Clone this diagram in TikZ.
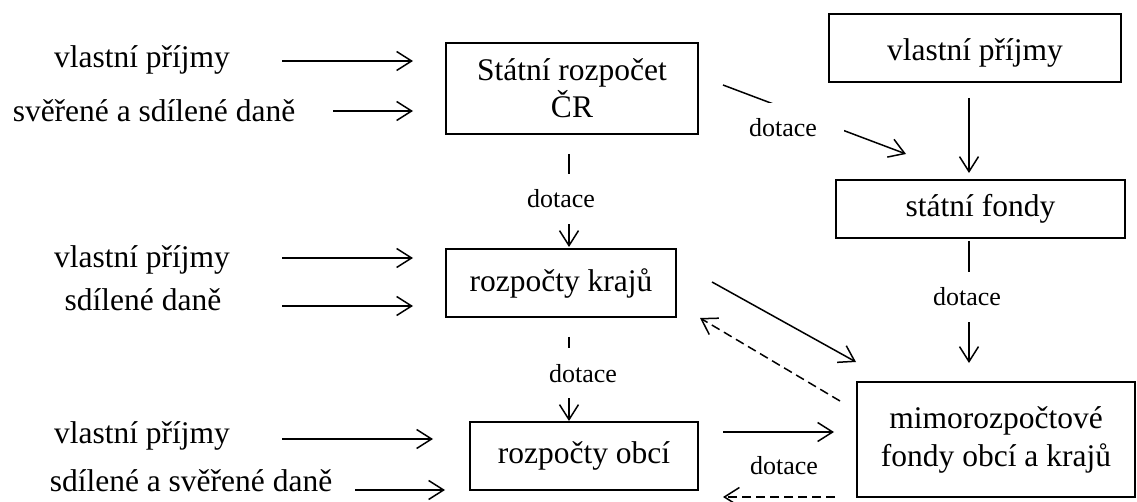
\documentclass[tikz,border=0pt]{standalone}
\usepackage{fontspec}
\setmainfont{Liberation Serif}
\usetikzlibrary{arrows.meta}
\begin{document}
\begin{tikzpicture}[x=1pt,y=-1pt,
  box/.style={draw,line width=1.3pt,inner sep=0pt,font=\fontsize{31.5}{37}\selectfont,align=center},
  txt/.style={inner sep=0pt,anchor=base,font=\fontsize{31.5}{37}\selectfont},
  lab/.style={fill=white,inner xsep=4pt,inner ysep=16pt,anchor=base,font=\fontsize{26}{30}\selectfont},
  arr/.style={line width=1.5pt,-{Straight Barb[length=15pt,width=19pt]}},
  darr/.style={arr,dash pattern=on 9pt off 5pt}]
\useasboundingbox (0,0) rectangle (1137,502);
% boxes
\node[box,minimum width=252pt,minimum height=91pt] (sr) at (572,88.5) {Státní rozpočet\\ČR};
\node[box,minimum width=292pt,minimum height=68pt,text height=26pt,text depth=0pt] (vp) at (975,48) {vlastní příjmy};
\node[box,minimum width=289pt,minimum height=58pt] (sf) at (980.5,209) {státní fondy};
\node[box,minimum width=230pt,minimum height=68pt] (kr) at (561,283) {rozpočty krajů};
\node[box,minimum width=228pt,minimum height=68pt] (ob) at (584,456) {rozpočty obcí};
\node[box,minimum width=278pt,minimum height=115pt,font=\fontsize{31.5}{38}\selectfont] (mf) at (996,439.5) {mimorozpočtové\\fondy obcí a krajů};
% left texts
\node[txt] (t1) at (142,68) {vlastní příjmy};
\node[txt] (t2) at (154,122) {svěřené a sdílené daně};
\node[txt] (t3) at (142,268) {vlastní příjmy};
\node[txt] (t4) at (143,311) {sdílené daně};
\node[txt] (t5) at (142,443) {vlastní příjmy};
\node[txt] (t6) at (191,491) {sdílené a svěřené daně};
% arrow end points
\coordinate (a1s) at (282,61);  \coordinate (a1e) at (413,61);
\coordinate (a2s) at (333,111); \coordinate (a2e) at (413,111);
\coordinate (a3s) at (282,258); \coordinate (a3e) at (413,258);
\coordinate (a4s) at (282,306); \coordinate (a4e) at (413,306);
\coordinate (a5s) at (282,439); \coordinate (a5e) at (433,439);
\coordinate (a6s) at (355,490); \coordinate (a6e) at (445,490);
\draw[arr] (a1s) -- (a1e);
\draw[arr] (a2s) -- (a2e);
\draw[arr] (a3s) -- (a3e);
\draw[arr] (a4s) -- (a4e);
\draw[arr] (a5s) -- (a5e);
\draw[arr] (a6s) -- (a6e);
% dotace connectors
\coordinate (c1s) at (569,154); \coordinate (c1e) at (569,247);
\draw[arr] (c1s) -- (c1e);
\node[lab] (l1) at (561,208) {dotace};
\coordinate (c2s) at (569,337); \coordinate (c2e) at (569,421);
\draw[arr] (c2s) -- (c2e);
\node[lab] (l2) at (583,382) {dotace};
\coordinate (c3s) at (723,85); \coordinate (c3e) at (906,154);
\draw[arr] (c3s) -- (c3e);
\node[lab,inner xsep=27pt] (l3) at (783,137) {dotace};
\coordinate (c4s) at (969,98); \coordinate (c4e) at (969,173);
\draw[arr] (c4s) -- (c4e);
\coordinate (c5s) at (969,241); \coordinate (c5e) at (969,363);
\draw[arr] (c5s) -- (c5e);
\node[lab] (l5) at (967,306) {dotace};
\coordinate (c6s) at (712,282); \coordinate (c6e) at (856,362);
\draw[arr] (c6s) -- (c6e);
\coordinate (c7s) at (840,401); \coordinate (c7e) at (700,318);
\draw[darr] (c7s) -- (c7e);
\coordinate (c8s) at (723,432); \coordinate (c8e) at (834,432);
\draw[arr] (c8s) -- (c8e);
\coordinate (c9s) at (835,497); \coordinate (c9e) at (723,497);
\draw[darr] (c9s) -- (c9e);
\node[lab,fill=none,inner sep=0pt] (l9) at (784,474) {dotace};
\end{tikzpicture}
\end{document}
